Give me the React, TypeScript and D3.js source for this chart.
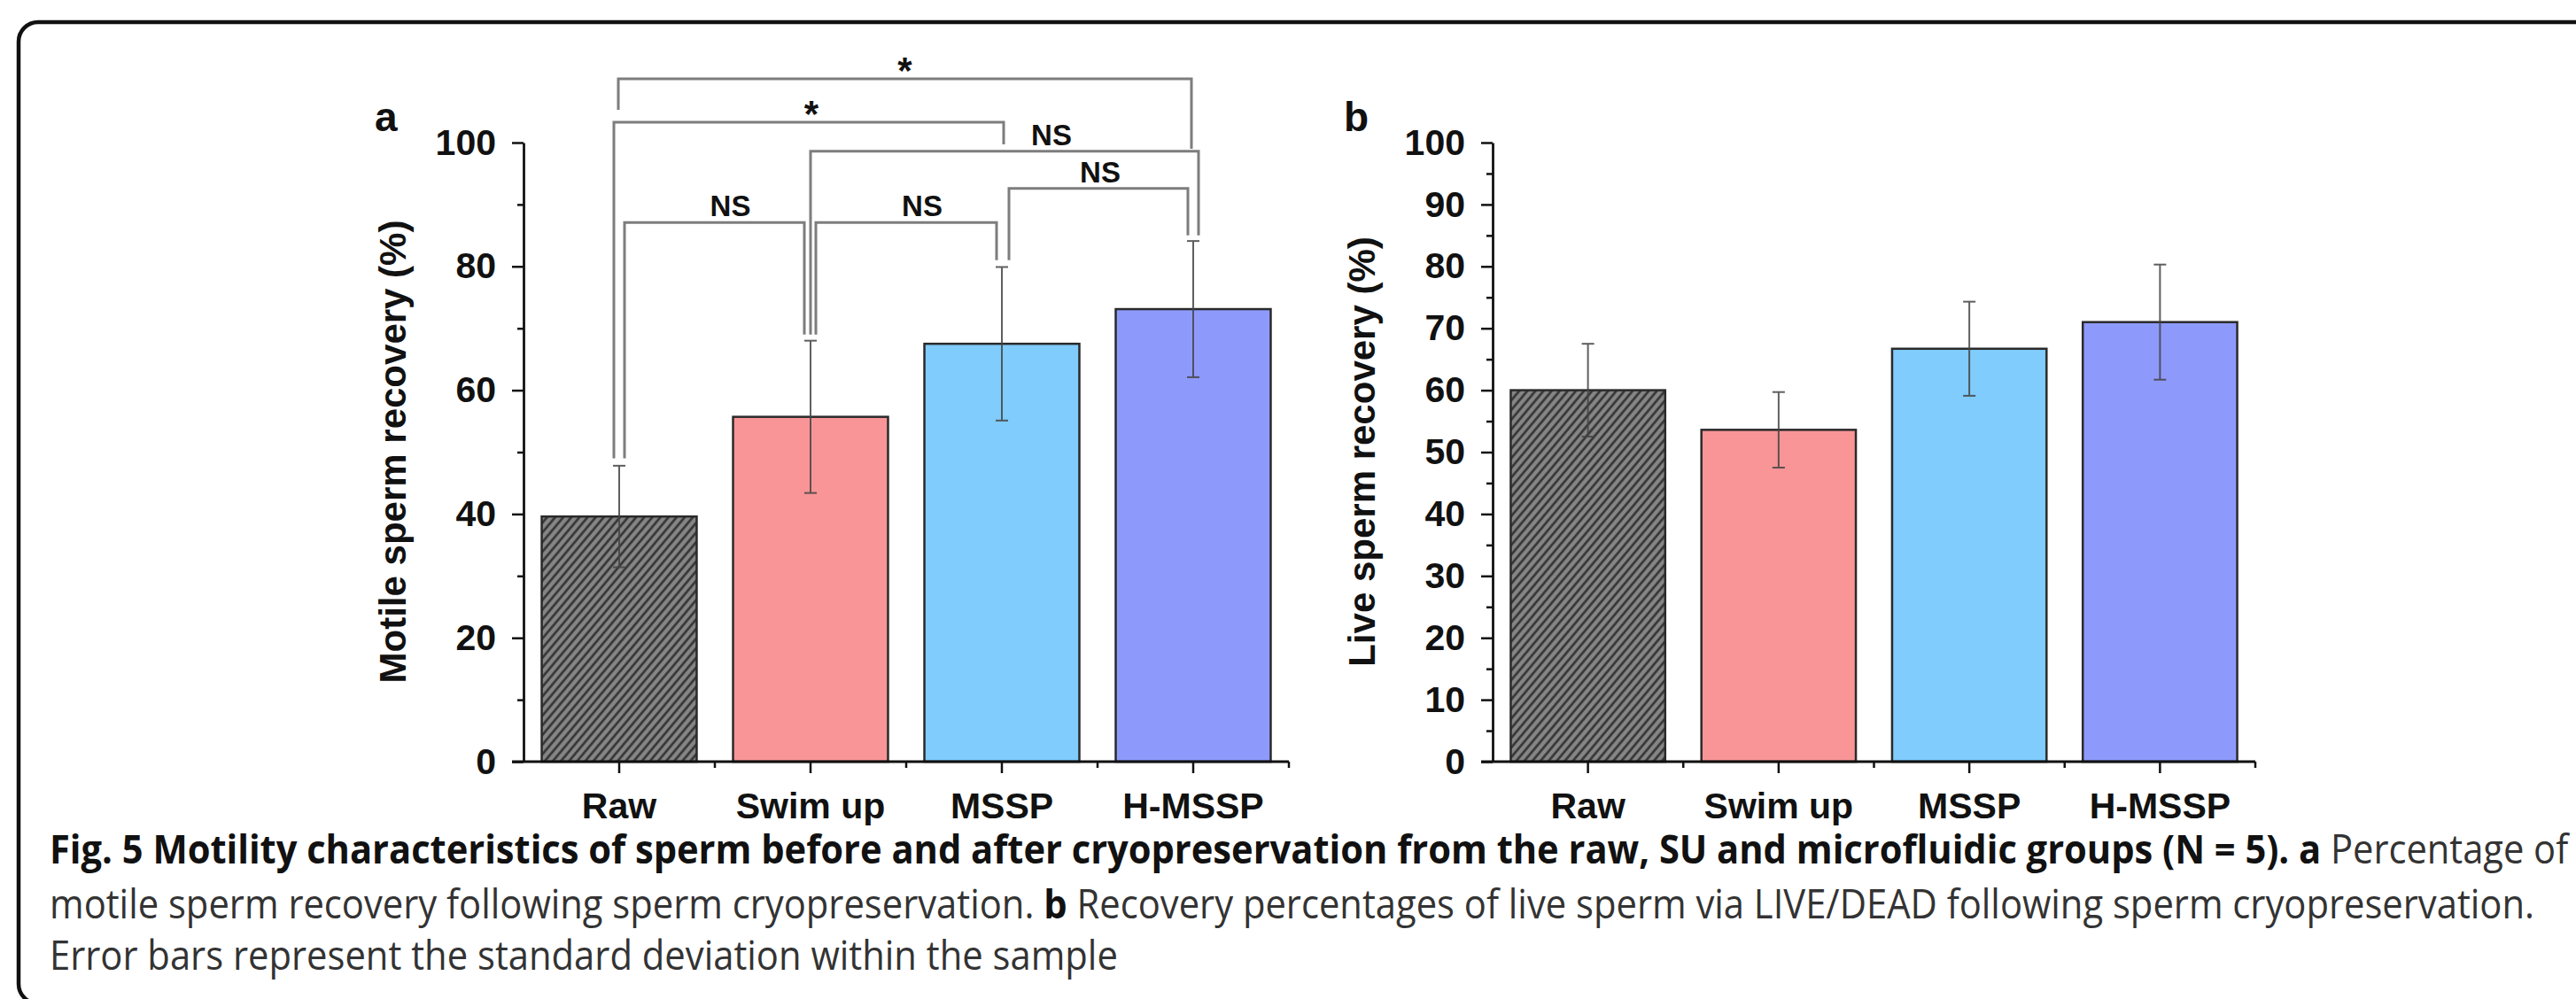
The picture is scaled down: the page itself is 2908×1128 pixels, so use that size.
import React, { useEffect, useRef } from "react";
import * as d3 from "d3";

const categories = ["Raw", "Swim up", "MSSP", "H-MSSP"];
const barColors = ["url(#hatch)", "#f99597", "#80ccfc", "#8e9afb"];

// panel a: motile sperm recovery (%)
const motileMean = [39.6, 55.7, 67.5, 73.1];
const motileSD = [8.2, 12.3, 12.4, 11.0];
const motileTicks = [0, 20, 40, 60, 80, 100];
const motileMinor = [10, 30, 50, 70, 90];

// panel b: live sperm recovery (%)
const liveMean = [60.0, 53.6, 66.7, 71.0];
const liveSD = [7.5, 6.1, 7.6, 9.3];
const liveTicks = [0, 10, 20, 30, 40, 50, 60, 70, 80, 90, 100];
const liveMinor = [5, 15, 25, 35, 45, 55, 65, 75, 85, 95];

// significance brackets on panel a
const bracketPairs = [[0, 1], [1, 2], [2, 3], [1, 3], [0, 2], [0, 3]];
const bracketLevels = [87.1, 87.1, 92.6, 98.6, 103.3, 110.3];
const bracketLabels = ["NS", "NS", "NS", "NS", "*", "*"];
const bracketLegEnds = [[49, 69], [69, 81], [81, 85], [69, 85], [49, 99.7], [105.3, 99]];

const captionLines = [
  [
    ["Fig. 5 Motility characteristics of sperm before and after cryopreservation from the raw, SU and microfluidic groups (N\u00a0=\u00a05). a", true],
    [" Percentage of", false],
  ],
  [
    ["motile sperm recovery following sperm cryopreservation. ", false],
    ["b", true],
    [" Recovery percentages of live sperm via LIVE/DEAD following sperm cryopreservation.", false],
  ],
  [["Error bars represent the standard deviation within the sample", false]],
];

const W = 2908;
const H = 1128;
const AXIS_FONT = "'Liberation Sans', Arial, sans-serif";

export default function App() {
  const ref = useRef<SVGSVGElement>(null);

  useEffect(() => {
    const svg = d3.select(ref.current);
    svg.selectAll("*").remove();

    // hatch for the raw group
    const defs = svg.append("defs");
    const pat = defs
      .append("pattern")
      .attr("id", "hatch")
      .attr("patternUnits", "userSpaceOnUse")
      .attr("width", 7)
      .attr("height", 7)
      .attr("patternTransform", "rotate(40)");
    pat.append("rect").attr("width", 7).attr("height", 7).attr("fill", "#858585");
    pat.append("line").attr("x1", 1.5).attr("x2", 1.5).attr("y1", 0).attr("y2", 7)
      .attr("stroke", "#333").attr("stroke-width", 2.6);

    // frame
    svg.append("rect")
      .attr("x", 21).attr("y", 25).attr("width", 3000).attr("height", 1108)
      .attr("rx", 22).attr("fill", "none").attr("stroke", "#111").attr("stroke-width", 4.5);

    const y = d3.scaleLinear().domain([0, 100]).range([860, 161]);

    const drawPanel = (opts: {
      x0: number; x1: number; mean: number[]; sd: number[];
      ticks: number[]; minor: number[]; title: string; letter: string;
    }) => {
      const { x0, x1, mean, sd, ticks, minor, title, letter } = opts;
      const x = d3.scaleBand().domain(categories).range([x0, x1]).paddingInner(0.19).paddingOuter(0.095);
      const g = svg.append("g");

      // bars
      g.selectAll("rect.bar")
        .data(categories)
        .join("rect")
        .attr("class", "bar")
        .attr("x", (d) => x(d)!)
        .attr("y", (d, i) => y(mean[i]))
        .attr("width", x.bandwidth())
        .attr("height", (d, i) => y(0) - y(mean[i]))
        .attr("fill", (d, i) => barColors[i])
        .attr("stroke", "#2a2a2a")
        .attr("stroke-width", 2.5);

      // error bars
      const eb = g.selectAll("g.err").data(categories).join("g").attr("class", "err")
        .attr("stroke", "#444").attr("stroke-width", 2).attr("opacity", 0.85);
      const cx = (d: string) => x(d)! + x.bandwidth() / 2;
      eb.append("line")
        .attr("x1", cx).attr("x2", cx)
        .attr("y1", (d, i) => y(mean[i] + sd[i]))
        .attr("y2", (d, i) => y(mean[i] - sd[i]));
      [1, -1].forEach((s) => {
        eb.append("line")
          .attr("x1", (d) => cx(d) - 7).attr("x2", (d) => cx(d) + 7)
          .attr("y1", (d, i) => y(mean[i] + s * sd[i]))
          .attr("y2", (d, i) => y(mean[i] + s * sd[i]));
      });

      // y axis
      const yAxis = g.append("g").attr("transform", `translate(${x0},0)`)
        .call(d3.axisLeft(y).tickValues(ticks).tickSize(13).tickSizeOuter(0).tickPadding(18).tickFormat(d3.format("d")));
      g.append("g").attr("transform", `translate(${x0},0)`)
        .call(d3.axisLeft(y).tickValues(minor).tickSize(7).tickSizeOuter(0).tickFormat(() => ""))
        .select(".domain").remove();

      // x axis
      const xAxis = g.append("g").attr("transform", `translate(0,${y(0)})`)
        .call(d3.axisBottom(x).tickSize(13).tickSizeOuter(0).tickPadding(22));
      xAxis.select(".domain").attr("d", `M${x0 - 13},0H${x1}`);
      const step = x.step();
      g.selectAll("line.sep").data(categories).join("line").attr("class", "sep")
        .attr("x1", (d, i) => x0 + step * (i + 1)).attr("x2", (d, i) => x0 + step * (i + 1))
        .attr("y1", y(0)).attr("y2", y(0) + 7)
        .attr("stroke", "#111").attr("stroke-width", 2.5);

      [yAxis, xAxis].forEach((ax) => {
        ax.selectAll("path, line").attr("stroke", "#111").attr("stroke-width", 2.8);
        ax.selectAll("text")
          .attr("fill", "#111")
          .style("font-family", AXIS_FONT)
          .style("font-weight", 700)
          .style("font-size", "41px");
      });
      g.selectAll("g.tick line").attr("stroke", "#111").attr("stroke-width", 2.5);

      // y title
      g.append("text")
        .attr("transform", `translate(${x0 - 133},510) rotate(-90)`)
        .attr("text-anchor", "middle")
        .style("font-family", AXIS_FONT).style("font-weight", 700).style("font-size", "42px")
        .attr("fill", "#111")
        .text(title);

      // panel letter
      g.append("text")
        .attr("x", x0 - 168).attr("y", 148)
        .style("font-family", AXIS_FONT).style("font-weight", 700).style("font-size", "46px")
        .attr("fill", "#111")
        .text(letter);

      return { x, g };
    };

    const a = drawPanel({
      x0: 591, x1: 1455, mean: motileMean, sd: motileSD,
      ticks: motileTicks, minor: motileMinor, title: "Motile sperm recovery (%)", letter: "a",
    });
    drawPanel({
      x0: 1685, x1: 2546, mean: liveMean, sd: liveSD,
      ticks: liveTicks, minor: liveMinor, title: "Live sperm recovery (%)", letter: "b",
    });

    // brackets
    const legShift = [[6, -7], [6, -6], [8, -6], [0, 6], [-6, 2], [-1, -2]];
    const labelShift = [18, 18, 2, 53, 3, 0];
    const cx = (i: number) => a.x(categories[i])! + a.x.bandwidth() / 2;
    bracketPairs.forEach(([p, q], k) => {
      const xl = cx(p) + legShift[k][0];
      const xr = cx(q) + legShift[k][1];
      const lvl = y(bracketLevels[k]);
      a.g.append("path")
        .attr("d", `M${xl},${y(bracketLegEnds[k][0])}V${lvl}H${xr}V${y(bracketLegEnds[k][1])}`)
        .attr("fill", "none").attr("stroke", "#7d7d7d").attr("stroke-width", 3);
      const star = bracketLabels[k] === "*";
      // the asterisk glyph sits near cap height, so its baseline goes a bit below the line
      a.g.append("text")
        .attr("x", (xl + xr) / 2 + labelShift[k])
        .attr("y", lvl + (star ? 5 : -7))
        .attr("text-anchor", "middle")
        .style("font-family", AXIS_FONT).style("font-weight", 700)
        .style("font-size", star ? "42px" : "33px")
        .attr("fill", "#111")
        .text(bracketLabels[k]);
    });

    // caption: natural text, then squeezed horizontally to the reference width
    const capY = [975, 1037, 1095];
    const capLen = [2844, 2806, 1206];
    captionLines.forEach((parts, li) => {
      const t = svg.append("text")
        .attr("x", 0).attr("y", 0)
        .style("font-family", "'Open Sans', sans-serif").style("font-size", "45px")
        .style("white-space", "pre");
      parts.forEach(([s, bold]) => {
        t.append("tspan")
          .style("font-weight", bold ? 700 : 400)
          .attr("fill", bold ? "#111" : "#333")
          .text(s as string);
      });
      const len = (t.node() as SVGTextElement).getComputedTextLength() || capLen[li];
      t.attr("transform", `translate(56,${capY[li]}) scale(${capLen[li] / len},1)`);
    });
  }, []);

  return (
    <svg
      ref={ref}
      width={W}
      height={H}
      style={{ position: "absolute", left: 0, top: 0, background: "#fff" }}
    />
  );
}
